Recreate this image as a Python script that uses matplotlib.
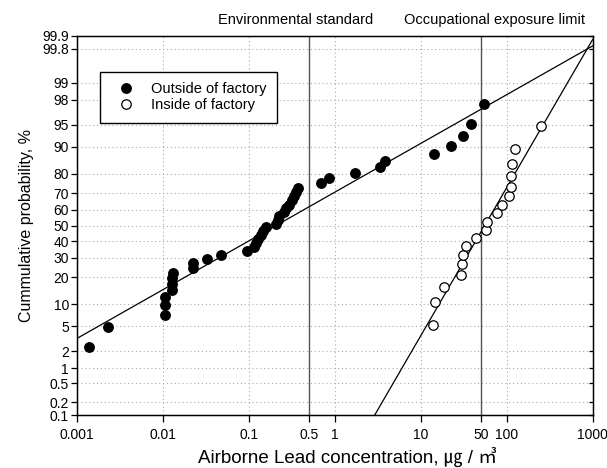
import math
from statistics import NormalDist

import matplotlib

matplotlib.use("Agg")
import matplotlib.pyplot as plt  # noqa: E402
import numpy as np  # noqa: E402
from matplotlib.ticker import FixedLocator, NullLocator  # noqa: E402

plt.rcParams["font.family"] = ["Liberation Sans", "Noto Sans CJK KR", "DejaVu Sans"]

# outside of factory: concentration and cumulative probability (%)
outside_conc = [0.00138, 0.00229, 0.0105, 0.0105, 0.0105, 0.0125, 0.0125, 0.0127,
                0.0129, 0.0220, 0.0220, 0.0320, 0.0469, 0.0933, 0.1135, 0.1197,
                0.126, 0.137, 0.146, 0.156, 0.204, 0.216, 0.224, 0.253, 0.271,
                0.290, 0.314, 0.331, 0.349, 0.368, 0.695, 0.851, 1.73, 3.31,
                3.81, 14.2, 22.6, 30.8, 38.5, 54.0]
outside_prob = [2.4, 4.9, 7.3, 9.8, 12.2, 14.6, 17.1, 19.5, 22.0, 24.4, 26.8,
                29.3, 31.7, 34.1, 36.6, 39.0, 41.5, 43.9, 46.3, 48.8, 51.2, 53.7,
                56.1, 58.5, 61.0, 63.4, 65.9, 68.3, 70.7, 73.2, 75.6, 78.0, 80.5,
                82.9, 85.4, 87.8, 90.2, 92.7, 95.1, 97.6]

# inside of factory
inside_conc = [13.8, 14.4, 18.5, 28.9, 29.8, 30.8, 33.1, 43.3, 57.6, 59.2, 76.5,
               87.5, 104.7, 111.4, 112.5, 115.6, 126.0, 251.0]
inside_prob = [5.3, 10.5, 15.8, 21.1, 26.3, 31.6, 36.8, 42.1, 47.4, 52.6, 57.9,
               63.2, 68.4, 73.7, 78.9, 84.2, 89.5, 94.7]

# fitted lines (end points)
outside_fit_conc = [0.001, 1000]
outside_fit_prob = [3.3, 99.83]
inside_fit_conc = [2.9, 1000]
inside_fit_prob = [0.1, 99.88]

env_standard = 0.5
occ_limit = 50

xticks = [0.001, 0.01, 0.1, 0.5, 1, 10, 50, 100, 1000]
xticklabels = ["0.001", "0.01", "0.1", "0.5", "1", "10", "50", "100", "1000"]
yticks = [0.1, 0.2, 0.5, 1, 2, 5, 10, 20, 30, 40, 50, 60, 70, 80, 90, 95, 98,
          99, 99.8, 99.9]
yticklabels = ["0.1", "0.2", "0.5", "1", "2", "5", "10", "20", "30", "40", "50",
               "60", "70", "80", "90", "95", "98", "99", "99.8", "99.9"]

_nd = NormalDist()
_ppf = np.vectorize(_nd.inv_cdf, otypes=[float])
_erf = np.vectorize(math.erf, otypes=[float])


def prob_fwd(p):
    p = np.clip(np.asarray(p, dtype=float), 1e-7, 100 - 1e-7) / 100
    return _ppf(p)


def prob_inv(z):
    z = np.asarray(z, dtype=float)
    return 50 * (1 + _erf(z / math.sqrt(2)))


def setup_prob_axis(a):
    a.set_yscale("function", functions=(prob_fwd, prob_inv))
    a.set_ylim(0.1, 99.9)
    a.yaxis.set_major_locator(FixedLocator(yticks))


fig = plt.figure(figsize=(6.07, 4.68), dpi=100)
ax = fig.add_axes([0.1273, 0.1132, 0.8492, 0.8099])

ax.set_xscale("log")
ax.set_xlim(0.001, 1000)
setup_prob_axis(ax)
ax.set_xticks(xticks)
ax.set_xticklabels(xticklabels)
ax.xaxis.set_minor_locator(NullLocator())
ax.set_yticklabels(yticklabels)

ax.grid(True, linestyle=(0, (1, 2.5)), color="#aaaaaa", linewidth=0.8)
ax.set_axisbelow(True)

ax.axvline(env_standard, color="#555555", lw=1.0, zorder=2)
ax.axvline(occ_limit, color="#555555", lw=1.0, zorder=2)

ax.plot(outside_fit_conc, outside_fit_prob, color="black", lw=0.9, zorder=3)
ax.plot(inside_fit_conc, inside_fit_prob, color="black", lw=0.9, zorder=3)

ax.plot(outside_conc, outside_prob, "o", color="black", ms=6.8,
        label="Outside of factory", zorder=4)
ax.plot(inside_conc, inside_prob, "o", mfc="white", mec="black", mew=0.9, ms=6.8,
        label="Inside of factory", zorder=4)

ax.tick_params(axis="x", direction="out", length=5, width=0.9, labelsize=10, pad=4)
ax.tick_params(axis="y", direction="out", length=4, width=0.9, labelsize=10, pad=2)
for s in ax.spines.values():
    s.set_linewidth(1.0)

# right side ticks point inward
ax2 = ax.twinx()
setup_prob_axis(ax2)
ax2.tick_params(axis="y", direction="in", length=3, width=0.9, labelright=False)

leg = ax.legend(loc="upper left", bbox_to_anchor=(0.044, 0.905), borderaxespad=0,
                fancybox=False, edgecolor="black", framealpha=1, fontsize=10.5,
                handlelength=2.2, handletextpad=0.6, borderpad=0.7, labelspacing=0.15)
leg.get_frame().set_linewidth(1.0)

fig.text(296 / 607, 1 - 24 / 468, "Environmental standard", ha="center",
         va="baseline", fontsize=10.5)
fig.text(495 / 607, 1 - 24 / 468, "Occupational exposure limit", ha="center",
         va="baseline", fontsize=10.5)

ax.set_ylabel("Cummulative probability, %", fontsize=11.5, labelpad=6)
fig.text(347 / 607, 1 - 463 / 468, "Airborne Lead concentration, ㎍ / ㎥",
         ha="center", va="baseline", fontsize=13.5)

fig.savefig("out.png", dpi=100)
